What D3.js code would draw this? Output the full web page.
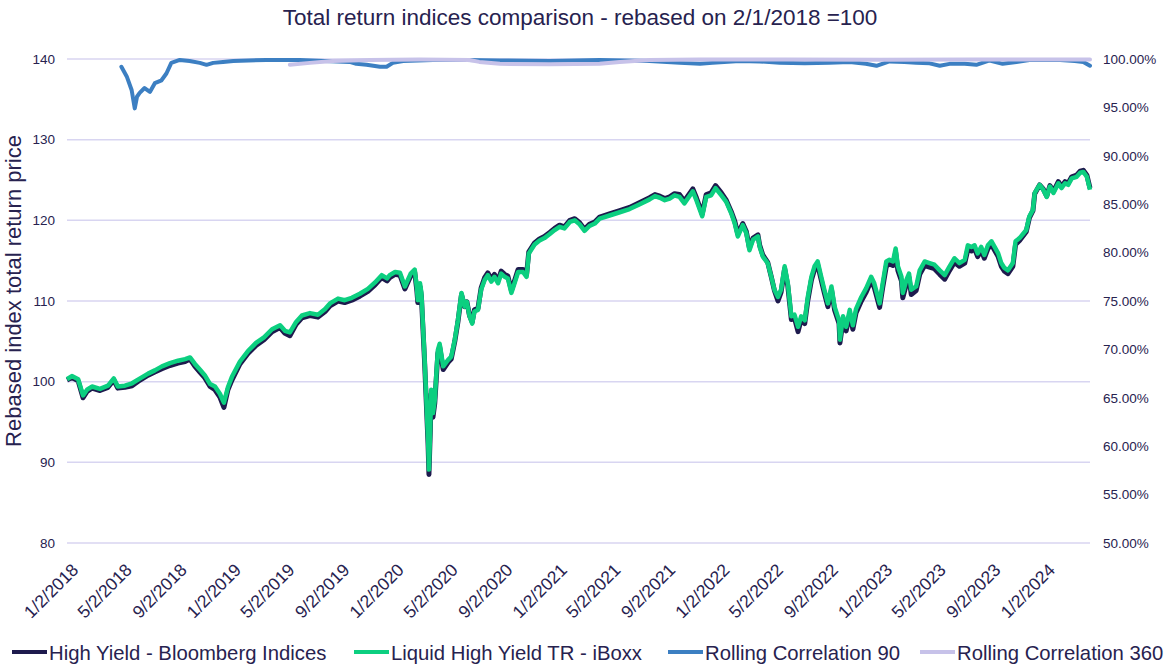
<!DOCTYPE html>
<html>
<head>
<meta charset="utf-8">
<script src="https://cdn.jsdelivr.net/npm/d3@7"></script>
<style>
  html, body { margin: 0; padding: 0; background: #ffffff; }
  svg { display: block; font-family: "Liberation Sans", Arial, sans-serif; }
</style>
</head>
<body>
<svg id="chart" width="1169" height="664"></svg>
<script>
// ---------------- DATA ----------------
const chartTitle = "Total return indices comparison - rebased on 2/1/2018 =100";
const leftAxisTitle = "Rebased index total return price";
const seriesNames = ["High Yield - Bloomberg Indices", "Liquid High Yield TR - iBoxx", "Rolling Correlation 90", "Rolling Correlation 360"];

const xTickLabels = ["1/2/2018","5/2/2018","9/2/2018","1/2/2019","5/2/2019","9/2/2019","1/2/2020","5/2/2020","9/2/2020","1/2/2021","5/2/2021","9/2/2021","1/2/2022","5/2/2022","9/2/2022","1/2/2023","5/2/2023","9/2/2023","1/2/2024"];
const xDomain = ["2018-01-02", "2024-04-15"];
const leftTicks = [80, 90, 100, 110, 120, 130, 140];
const rightTicks = [0.50, 0.55, 0.60, 0.65, 0.70, 0.75, 0.80, 0.85, 0.90, 0.95, 1.00];

const priceDates = ["2018-01-02","2018-01-13","2018-01-27","2018-02-07","2018-02-16","2018-02-27","2018-03-17","2018-04-04","2018-04-17","2018-04-26","2018-05-12","2018-05-28","2018-06-15","2018-07-03","2018-07-18","2018-08-03","2018-08-21","2018-09-08","2018-09-24","2018-10-05","2018-10-16","2018-10-27","2018-11-07","2018-11-19","2018-11-30","2018-12-11","2018-12-20","2018-12-29","2019-01-07","2019-01-25","2019-02-12","2019-03-02","2019-03-20","2019-04-07","2019-04-25","2019-05-06","2019-05-17","2019-05-31","2019-06-13","2019-07-01","2019-07-19","2019-08-04","2019-08-15","2019-09-02","2019-09-17","2019-10-03","2019-10-21","2019-11-08","2019-11-24","2019-12-09","2019-12-21","2019-12-27","2020-01-08","2020-01-19","2020-01-30","2020-02-12","2020-02-21","2020-02-26","2020-02-28","2020-03-04","2020-03-07","2020-03-14","2020-03-22","2020-03-24","2020-03-27","2020-03-29","2020-04-02","2020-04-06","2020-04-13","2020-04-17","2020-04-25","2020-05-06","2020-05-13","2020-05-21","2020-05-28","2020-06-05","2020-06-12","2020-06-17","2020-06-23","2020-06-29","2020-07-04","2020-07-12","2020-07-19","2020-07-27","2020-08-03","2020-08-11","2020-08-18","2020-08-26","2020-09-02","2020-09-10","2020-09-17","2020-09-25","2020-10-02","2020-10-10","2020-10-21","2020-10-29","2020-11-03","2020-11-16","2020-11-27","2020-12-08","2020-12-20","2020-12-31","2021-01-11","2021-01-22","2021-02-03","2021-02-14","2021-02-25","2021-03-08","2021-03-19","2021-03-31","2021-04-11","2021-05-03","2021-05-26","2021-06-17","2021-07-10","2021-08-01","2021-08-13","2021-08-24","2021-09-04","2021-09-15","2021-09-26","2021-10-07","2021-10-18","2021-11-06","2021-11-14","2021-11-27","2021-12-06","2021-12-17","2021-12-27","2022-01-09","2022-01-20","2022-01-31","2022-02-08","2022-02-15","2022-02-26","2022-03-06","2022-03-13","2022-03-21","2022-04-01","2022-04-05","2022-04-12","2022-04-23","2022-05-01","2022-05-08","2022-05-16","2022-05-23","2022-05-31","2022-06-07","2022-06-15","2022-06-22","2022-06-30","2022-07-07","2022-07-15","2022-07-22","2022-07-30","2022-08-06","2022-08-13","2022-08-21","2022-08-28","2022-09-05","2022-09-13","2022-09-20","2022-09-30","2022-10-02","2022-10-09","2022-10-16","2022-10-24","2022-10-31","2022-11-07","2022-11-19","2022-11-30","2022-12-11","2022-12-18","2022-12-30","2023-01-06","2023-01-14","2023-01-21","2023-01-29","2023-02-04","2023-02-09","2023-02-17","2023-02-20","2023-02-28","2023-03-06","2023-03-11","2023-03-22","2023-03-30","2023-04-10","2023-04-21","2023-05-02","2023-05-14","2023-05-25","2023-06-05","2023-06-16","2023-06-27","2023-07-09","2023-07-16","2023-07-24","2023-07-31","2023-08-07","2023-08-15","2023-08-22","2023-08-30","2023-09-07","2023-09-14","2023-09-22","2023-09-29","2023-10-06","2023-10-14","2023-10-25","2023-10-31","2023-11-09","2023-11-24","2023-12-01","2023-12-09","2023-12-13","2023-12-24","2024-01-01","2024-01-09","2024-01-16","2024-01-24","2024-02-04","2024-02-11","2024-02-19","2024-02-26","2024-03-05","2024-03-16","2024-03-24","2024-03-31","2024-04-08","2024-04-15"];

const bloombergHY = [100.2,100.5,100.1,98.0,98.8,99.2,98.9,99.3,100.2,99.2,99.3,99.5,100.2,100.8,101.2,101.6,102.0,102.3,102.5,102.8,101.9,101.2,100.5,99.4,99.0,98.1,96.8,99.0,100.2,102.2,103.5,104.5,105.2,106.2,106.7,106.0,105.7,107.1,107.9,108.2,108.0,108.7,109.4,110.0,109.8,110.1,110.6,111.2,112.0,112.9,112.5,112.9,113.3,113.2,111.5,113.1,113.6,111.2,109.8,111.8,110.6,102.7,92.3,88.5,93.9,98.5,95.6,97.3,103.5,104.3,101.5,102.4,102.8,105.0,107.4,110.8,109.3,109.9,108.2,107.4,108.9,109.1,111.6,112.9,113.5,112.7,113.3,112.5,113.7,113.3,113.1,111.3,112.5,113.9,113.9,113.3,116.1,117.2,117.7,118.0,118.5,119.0,119.4,119.2,120.0,120.2,119.7,118.9,119.5,119.8,120.4,120.8,121.2,121.6,122.2,122.8,123.2,123.0,122.7,122.9,123.3,123.2,122.4,123.9,122.8,120.8,123.2,123.4,124.3,123.4,122.5,121.1,119.9,118.3,119.6,118.6,116.6,117.8,118.2,116.9,115.7,114.8,113.0,111.3,110.0,111.1,114.0,111.9,107.7,107.9,106.2,107.7,107.2,110.1,112.6,113.9,114.5,112.6,111.0,109.3,111.4,108.9,107.2,104.8,107.6,106.3,108.4,106.5,108.5,110.0,111.1,112.5,111.7,109.2,111.7,114.3,114.6,114.4,116.0,113.8,112.5,110.4,112.1,112.9,110.8,111.3,113.3,114.4,114.2,114.0,113.3,112.7,113.8,114.8,114.3,114.7,116.4,116.2,116.5,115.5,116.3,115.3,116.5,117.0,116.3,115.5,114.3,113.7,113.4,114.3,117.0,117.5,118.6,120.3,121.2,123.3,124.4,123.9,123.0,124.3,123.6,124.8,124.2,124.8,124.6,125.4,125.6,126.1,126.2,125.6,124.0];

const iboxxLiquidHY = [100.3,100.7,100.3,98.3,99.0,99.4,99.1,99.5,100.4,99.4,99.5,99.8,100.4,101.0,101.4,101.9,102.3,102.6,102.8,103.0,102.2,101.5,100.8,99.7,99.4,98.5,97.4,99.3,100.6,102.5,103.8,104.8,105.5,106.5,107.0,106.3,106.1,107.4,108.2,108.5,108.3,109.0,109.7,110.3,110.1,110.4,110.9,111.5,112.3,113.2,112.8,113.2,113.6,113.5,111.8,113.4,113.9,111.6,110.1,112.2,111.0,103.1,92.8,89.1,94.4,99.0,96.1,97.7,103.9,104.7,101.9,102.7,103.1,105.2,107.6,111.0,109.3,109.9,108.1,107.2,108.7,108.9,111.4,112.6,113.2,112.4,113.0,112.2,113.4,113.0,112.8,111.0,112.2,113.6,113.6,113.0,115.9,117.0,117.5,117.8,118.3,118.8,119.2,119.0,119.8,120.0,119.5,118.7,119.3,119.6,120.2,120.6,121.0,121.4,122.0,122.6,123.0,122.8,122.5,122.7,123.1,122.9,122.1,123.6,122.5,120.5,122.9,123.1,124.0,123.1,122.3,120.9,119.6,118.0,119.4,118.4,116.3,117.6,118.0,116.7,115.5,114.7,113.0,111.4,110.5,111.4,114.3,112.2,108.1,108.3,106.8,108.1,107.6,110.5,113.0,114.3,114.9,113.0,111.4,109.7,111.8,109.3,107.6,105.2,108.1,106.8,108.9,107.0,109.0,110.5,111.6,113.0,112.2,109.7,112.2,114.9,115.1,114.9,116.5,114.3,113.0,111.0,112.6,113.4,111.4,111.8,113.8,114.9,114.7,114.5,113.8,113.2,114.3,115.3,114.7,115.1,116.9,116.7,116.9,115.9,116.7,115.7,116.9,117.4,116.7,115.9,114.7,114.1,113.8,114.7,117.4,117.8,118.8,120.5,121.3,123.4,124.4,123.8,122.9,124.2,123.4,124.6,124.0,124.6,124.4,125.2,125.4,125.9,126.0,125.4,123.8];

const corr90Dates = ["2018-05-04","2018-05-16","2018-05-27","2018-06-03","2018-06-08","2018-06-14","2018-06-25","2018-07-07","2018-07-18","2018-08-02","2018-08-13","2018-08-24","2018-09-12","2018-10-04","2018-10-27","2018-11-11","2018-11-26","2018-12-18","2019-01-10","2019-03-25","2019-06-08","2019-09-28","2019-10-13","2019-11-05","2019-12-05","2019-12-20","2020-01-03","2020-01-26","2020-04-02","2020-06-16","2020-08-30","2020-12-20","2021-04-11","2021-08-01","2021-10-08","2021-11-22","2021-12-20","2022-02-19","2022-04-05","2022-05-20","2022-07-15","2022-09-08","2022-10-24","2022-11-29","2022-12-23","2023-01-21","2023-02-24","2023-03-22","2023-04-21","2023-05-14","2023-06-05","2023-07-09","2023-08-04","2023-09-03","2023-10-02","2023-11-02","2023-12-01","2024-02-08","2024-03-12","2024-03-31","2024-04-15"];
const corr90 = [0.992,0.982,0.968,0.949,0.961,0.965,0.970,0.966,0.975,0.978,0.985,0.996,0.999,0.998,0.996,0.994,0.996,0.997,0.998,0.999,0.999,0.997,0.995,0.994,0.992,0.992,0.996,0.998,0.999,0.999,0.9985,0.998,0.999,0.998,0.996,0.995,0.996,0.998,0.9975,0.996,0.9955,0.996,0.997,0.995,0.993,0.9975,0.997,0.996,0.9955,0.993,0.995,0.995,0.994,0.9985,0.995,0.997,0.999,0.999,0.998,0.997,0.993];

const corr360Dates = ["2019-05-17","2019-07-01","2019-08-21","2019-11-12","2020-03-03","2020-06-23","2020-07-15","2020-08-30","2020-12-20","2021-04-11","2021-05-26","2021-08-01","2021-11-22","2022-06-01","2023-01-01","2023-08-01","2024-04-15"];
const corr360 = [0.994,0.996,0.998,0.999,0.9995,0.999,0.997,0.995,0.9945,0.995,0.997,0.999,0.9995,0.9995,0.9993,0.9995,0.9995];

// ---------------- LAYOUT / STYLE ----------------
const plot = { left: 67, right: 1090, top: 59, bottom: 543 };
const colors = { bloomberg: "#1e1a4d", iboxx: "#0ccf80", c90: "#3c7fc2", c360: "#c7c2e9", grid: "#d8d5f1", text: "#27224f" };
const FONT = "'Liberation Sans', Arial, sans-serif";

const parse = d3.utcParse("%Y-%m-%d");
const parseLabel = d3.utcParse("%m/%d/%Y");
const fmtLabel = d3.utcFormat("%-m/%-d/%Y");

const svg = d3.select("#chart");

const x = d3.scaleUtc().domain(xDomain.map(parse)).range([plot.left, plot.right]);
const yL = d3.scaleLinear().domain([d3.min(leftTicks), d3.max(leftTicks)]).range([plot.bottom, plot.top]);
const yR = d3.scaleLinear().domain([d3.min(rightTicks), d3.max(rightTicks)]).range([plot.bottom, plot.top]);

// gridlines
svg.append("g").selectAll("line").data(leftTicks).join("line")
  .attr("x1", plot.left).attr("x2", plot.right)
  .attr("y1", d => yL(d)).attr("y2", d => yL(d))
  .attr("stroke", colors.grid).attr("stroke-width", 1.5);

// left axis
const gL = svg.append("g").attr("transform", `translate(${plot.left - 12},0)`)
  .call(d3.axisLeft(yL).tickValues(leftTicks).tickSize(0).tickPadding(0).tickFormat(d3.format("d")));
gL.select(".domain").remove();
gL.selectAll("text").attr("fill", colors.text).style("font-size", "13.5px").style("font-family", FONT);

// right axis
const gR = svg.append("g").attr("transform", `translate(${plot.right + 13},0)`)
  .call(d3.axisRight(yR).tickValues(rightTicks).tickSize(0).tickPadding(0).tickFormat(d3.format(".2%")));
gR.select(".domain").remove();
gR.selectAll("text").attr("fill", colors.text).style("font-size", "13.5px").style("font-family", FONT);

// x axis labels
const xTicks = xTickLabels.map(parseLabel);
const gX = svg.append("g").attr("transform", `translate(0,${plot.bottom})`)
  .call(d3.axisBottom(x).tickValues(xTicks).tickSize(0).tickFormat(fmtLabel));
gX.select(".domain").remove();
gX.selectAll(".tick text")
  .attr("fill", colors.text)
  .style("font-size", "17.5px").style("font-family", FONT)
  .attr("text-anchor", "end")
  .attr("dy", null)
  .attr("y", 0)
  .attr("transform", "translate(12,28) rotate(-45)");

// lines
const priceBloom = priceDates.map((d, i) => ({ date: parse(d), v: bloombergHY[i] }));
const priceIboxx = priceDates.map((d, i) => ({ date: parse(d), v: iboxxLiquidHY[i] }));
const c90 = corr90Dates.map((d, i) => ({ date: parse(d), v: corr90[i] }));
const c360 = corr360Dates.map((d, i) => ({ date: parse(d), v: corr360[i] }));

const lineL = d3.line().x(d => x(d.date)).y(d => yL(d.v));
const lineR = d3.line().x(d => x(d.date)).y(d => yR(d.v));

svg.append("path").datum(priceBloom).attr("d", lineL).attr("fill", "none")
  .attr("stroke", colors.bloomberg).attr("stroke-width", 5).attr("stroke-linejoin", "round");
svg.append("path").datum(priceIboxx).attr("d", lineL).attr("fill", "none")
  .attr("stroke", colors.iboxx).attr("stroke-width", 4.5).attr("stroke-linejoin", "round");
svg.append("path").datum(c90).attr("d", lineR).attr("fill", "none")
  .attr("stroke", colors.c90).attr("stroke-width", 4).attr("stroke-linejoin", "round").attr("stroke-linecap", "round");
svg.append("path").datum(c360).attr("d", lineR).attr("fill", "none")
  .attr("stroke", colors.c360).attr("stroke-width", 4).attr("stroke-linejoin", "round").attr("stroke-linecap", "round");

// title
svg.append("text").attr("x", 580).attr("y", 25).attr("text-anchor", "middle")
  .attr("fill", colors.text).style("font-size", "22.5px").text(chartTitle);

// left axis title
svg.append("text").attr("transform", `translate(21,${(plot.top + plot.bottom) / 2 - 10}) rotate(-90)`)
  .attr("text-anchor", "middle").attr("fill", colors.text).style("font-size", "22px").text(leftAxisTitle);

// legend
const legendColors = [colors.bloomberg, colors.iboxx, colors.c90, colors.c360];
const legendX = [12, 354, 668, 920];
const lg = svg.append("g");
seriesNames.forEach((name, i) => {
  const g = lg.append("g").attr("transform", `translate(${legendX[i]},652)`);
  g.append("line").attr("x1", 0).attr("x2", 35).attr("y1", 0).attr("y2", 0)
    .attr("stroke", legendColors[i]).attr("stroke-width", 4);
  g.append("text").attr("x", 37).attr("y", 7.5).attr("fill", colors.text)
    .style("font-size", "20.3px").text(name);
});
</script>
</body>
</html>
